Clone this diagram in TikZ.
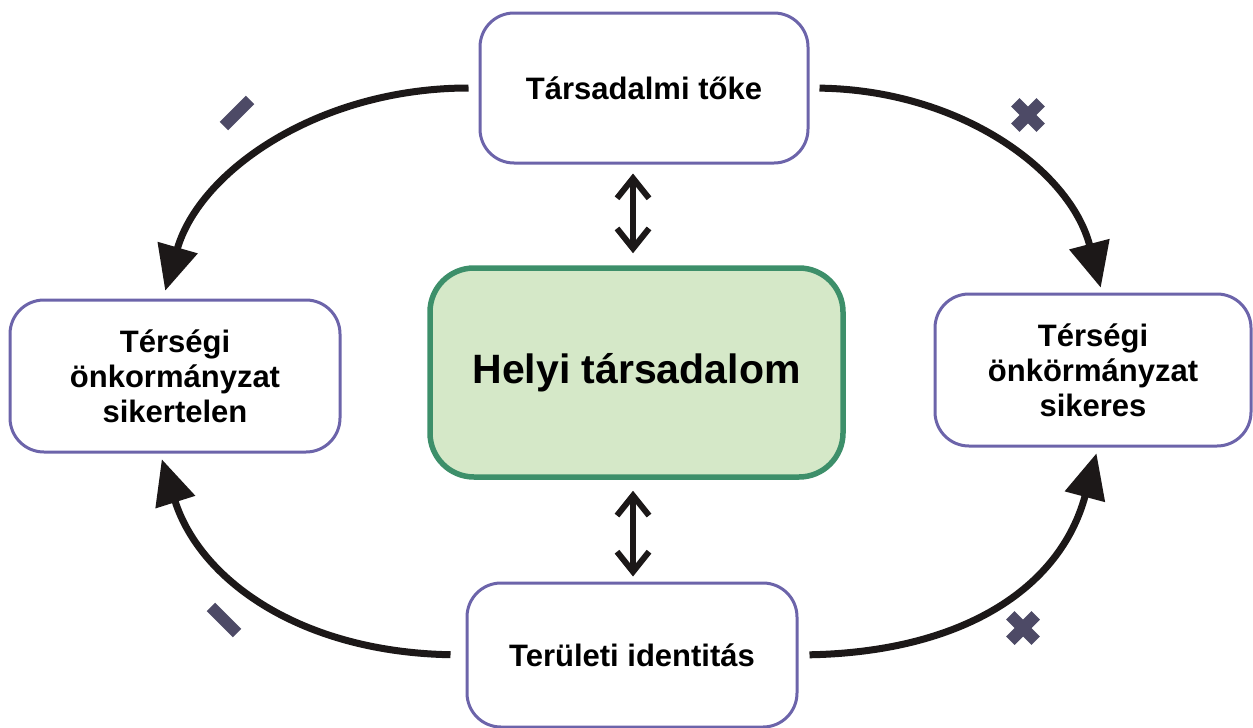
\documentclass[tikz,border=0pt]{standalone}
\usepackage{fontspec}
\setmainfont{Liberation Sans}
\usetikzlibrary{arrows.meta}
\definecolor{boxline}{RGB}{108,100,170}
\definecolor{gline}{RGB}{61,143,106}
\definecolor{gfill}{RGB}{213,232,200}
\definecolor{markc}{RGB}{77,74,102}
\definecolor{arrowc}{RGB}{28,24,24}
\begin{document}
\begin{tikzpicture}[x=1pt,y=-1pt,
  sidebox/.style={draw=boxline, line width=3pt, rounded corners=34pt, fill=white, align=center, inner sep=0pt, font=\bfseries\fontsize{31}{35}\selectfont},
  mainbox/.style={draw=gline, fill=gfill, line width=5.5pt, rounded corners=44pt, inner sep=0pt, font=\bfseries\fontsize{41}{48}\selectfont},
  flow/.style={draw=arrowc, line width=7pt, -{Triangle[length=45pt,width=40pt]}},
  mutual/.style={draw=arrowc, line width=6pt, {Straight Barb[length=20pt,width=32pt]}-{Straight Barb[length=20pt,width=32pt]}},
  signmark/.style={fill=markc, minimum width=37pt, minimum height=12pt, inner sep=0pt},
]
\fill[white] (0,0) rectangle (1253,728);
\useasboundingbox (0,0) rectangle (1253,728);

\node[sidebox, minimum width=328pt, minimum height=150pt] (tke) at (644,88) {Társadalmi tőke};
\node[sidebox, minimum width=330pt, minimum height=152pt] (fail) at (175,376) {Térségi\\önkormányzat\\sikertelen};
\node[sidebox, minimum width=316pt, minimum height=152pt] (succ) at (1093,370) {Térségi\\önkörmányzat\\sikeres};
\node[sidebox, minimum width=330pt, minimum height=144pt] (ident) at (632,655) {Területi identitás};
\node[mainbox, minimum width=413pt, minimum height=209pt] (hub) at (636.5,372.5) {Helyi társadalom};

% curved flows
\draw[flow, shorten <=10pt, shorten >=8pt] (tke.west) .. controls (320,88) and (200,170) .. ([xshift=-12pt]fail.north);
\draw[flow, shorten <=10pt, shorten >=5pt] (tke.east) .. controls (960,90) and (1070,170) .. ([xshift=9pt]succ.north);
\draw[flow, shorten <=15pt, shorten >=6pt] (ident.west) .. controls (300,652) and (200,580) .. ([xshift=-15pt]fail.south);
\draw[flow, shorten <=11pt, shorten >=6pt] (ident.east) .. controls (960,652) and (1060,590) .. ([xshift=5pt]succ.south);

% mutual arrows
\draw[mutual, shorten <=9pt, shorten >=12pt] ([xshift=-11pt]tke.south) -- ([xshift=-3.5pt]hub.north);
\draw[mutual, shorten <=11pt, shorten >=5pt] ([xshift=-3.5pt]hub.south) -- ([xshift=1pt]ident.north);

% signs
\node[signmark, rotate=45] (m1) at (237,113) {};
\node[signmark, rotate=-45] (m2) at (224,620) {};
\node[signmark, minimum width=36pt, rotate=45] (p1a) at (1028,115) {};
\node[signmark, minimum width=36pt, rotate=-45] (p1b) at (1028,115) {};
\node[signmark, minimum width=36pt, rotate=45] (p2a) at (1023,628) {};
\node[signmark, minimum width=36pt, rotate=-45] (p2b) at (1023,628) {};
\end{tikzpicture}
\end{document}
